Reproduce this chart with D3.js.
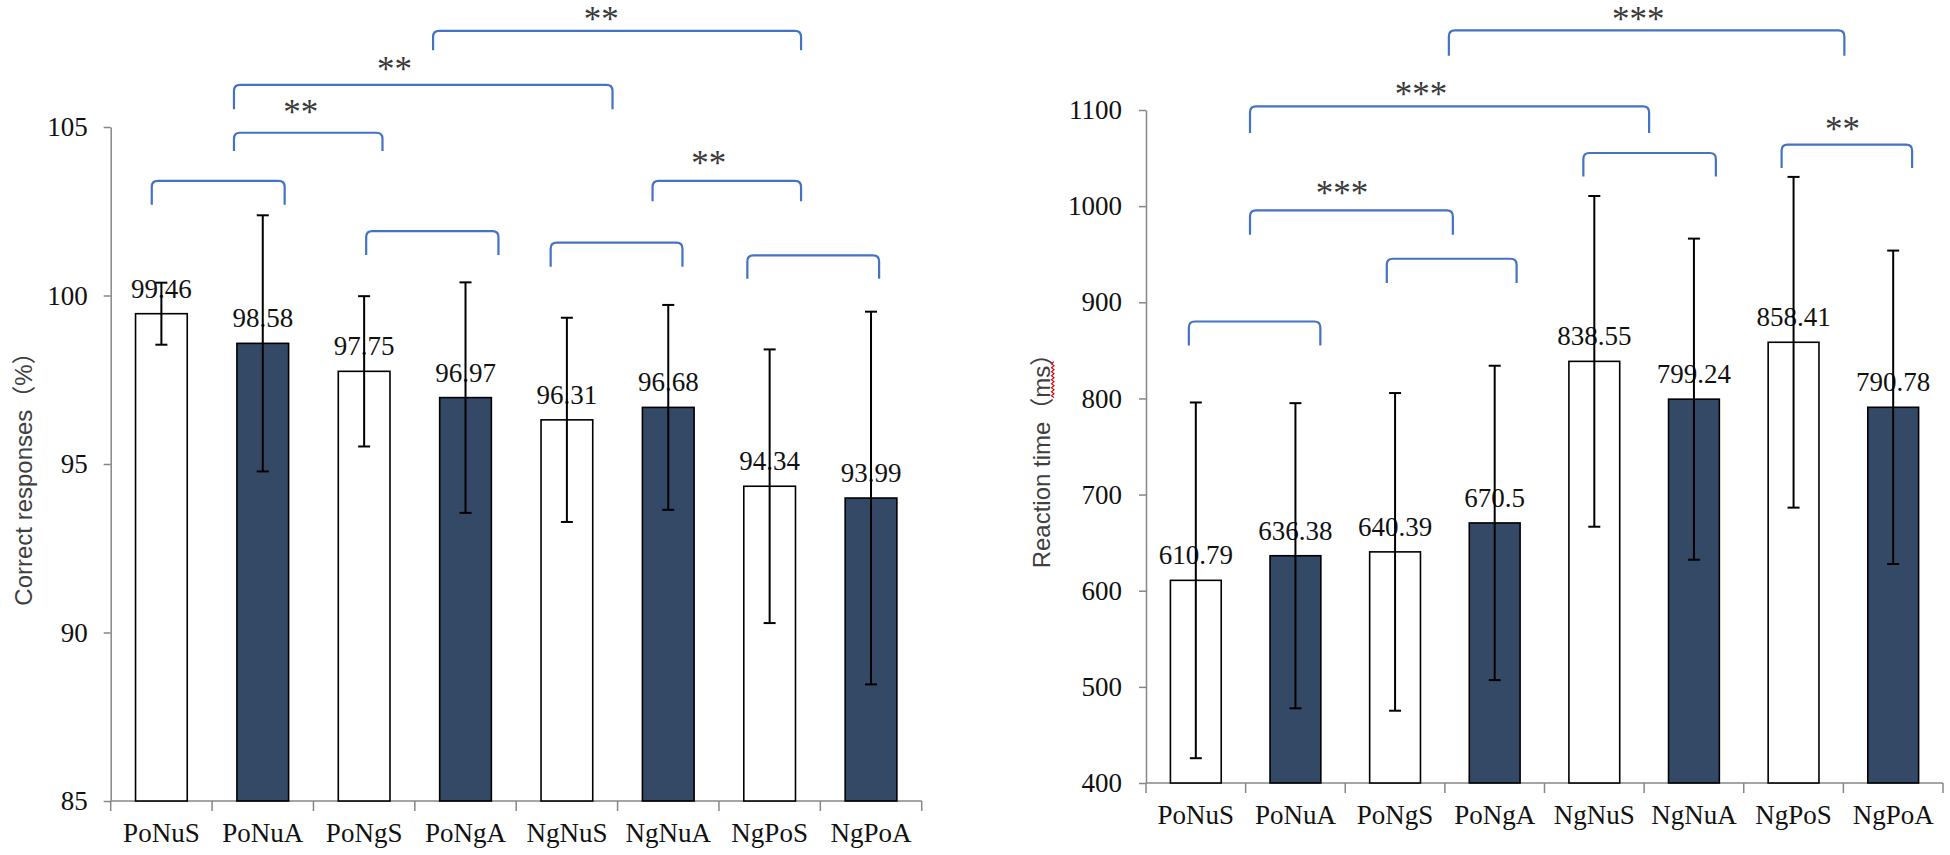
<!DOCTYPE html>
<html>
<head>
<meta charset="utf-8">
<script src="https://cdn.jsdelivr.net/npm/d3@7/dist/d3.min.js"></script>
<style>
  html, body { margin: 0; padding: 0; background: #ffffff; }
  svg { display: block; }
</style>
</head>
<body>
<svg id="chart" width="1950" height="855"></svg>
<script>
// ---------------- DATA ----------------
const categories = ["PoNuS", "PoNuA", "PoNgS", "PoNgA", "NgNuS", "NgNuA", "NgPoS", "NgPoA"];

const accuracyMeans = [99.46, 98.58, 97.75, 96.97, 96.31, 96.68, 94.34, 93.99];
const accuracyErrors = [0.92, 3.8, 2.23, 3.42, 3.03, 3.04, 4.06, 5.53];
const accuracyTicks = [85, 90, 95, 100, 105];
const accuracyTitle = "Correct responses（%）";

const rtMeans = [610.79, 636.38, 640.39, 670.5, 838.55, 799.24, 858.41, 790.78];
const rtErrors = [185, 158.7, 165.2, 163.5, 172, 167, 172, 163];
const rtTicks = [400, 500, 600, 700, 800, 900, 1000, 1100];
const rtTitle = "Reaction time（ms）";

// significance brackets: from/to in category-index units, top/leg in data units
const accuracyBrackets = [
  { from: -0.095, to: 1.216, top: 103.40, leg: 102.69, stars: "",   starX: 0,    starY: 0 },
  { from: 0.716,  to: 2.181, top: 104.83, leg: 104.29, stars: "**", starX: 1.374, starY: 105.56 },
  { from: 0.716,  to: 4.45,  top: 106.25, leg: 105.53, stars: "**", starX: 2.30,  starY: 106.84 },
  { from: 2.68,   to: 6.31,  top: 107.85, leg: 107.28, stars: "**", starX: 4.34,  starY: 108.32 },
  { from: 2.02,   to: 3.325, top: 101.91, leg: 101.20, stars: "",   starX: 0,    starY: 0 },
  { from: 3.84,   to: 5.14,  top: 101.57, leg: 100.85, stars: "",   starX: 0,    starY: 0 },
  { from: 4.845,  to: 6.31,  top: 103.40, leg: 102.80, stars: "**", starX: 5.40,  starY: 104.05 },
  { from: 5.78,   to: 7.08,  top: 101.19, leg: 100.50, stars: "",   starX: 0,    starY: 0 }
];

const rtBrackets = [
  { from: -0.07, to: 1.25, top: 880,    leg: 855,    stars: "",    starX: 0,    starY: 0 },
  { from: 1.917, to: 3.22, top: 945.3,  leg: 920,    stars: "",    starX: 0,    starY: 0 },
  { from: 0.544, to: 2.58, top: 995.5,  leg: 970.2,  stars: "***", starX: 1.468, starY: 1017.8 },
  { from: 0.544, to: 4.55, top: 1103.7, leg: 1076.1, stars: "***", starX: 2.26,  starY: 1121.1 },
  { from: 2.54,  to: 6.51, top: 1182.8, leg: 1156.5, stars: "***", starX: 4.44,  starY: 1199.2 },
  { from: 3.89,  to: 5.22, top: 1055.3, leg: 1030.9, stars: "",    starX: 0,    starY: 0 },
  { from: 5.88,  to: 7.19, top: 1063.9, leg: 1039.6, stars: "**",  starX: 6.49,  starY: 1084.7 }
];

// ---------------- STYLE ----------------
const DARK = "#344966";
const AXIS = "#878787";
const BRACKET = "#4472C4";
const SERIF = "'Liberation Serif', 'Times New Roman', serif";
const SANS = "'Liberation Sans', Arial, 'Noto Sans CJK SC', sans-serif";

const svg = d3.select("#chart");

function drawPanel(opt) {
  const g = svg.append("g");
  const x = d3.scaleBand().domain(categories).range([opt.x0, opt.x1])
    .paddingInner(0.49).paddingOuter(0.245);
  const xi = d3.scaleLinear().domain([-0.5, categories.length - 0.5]).range([opt.x0, opt.x1]);
  const y = d3.scaleLinear().domain(opt.domain).range([opt.yBottom, opt.yTop]);

  // y axis
  const ya = g.append("g").attr("transform", `translate(${opt.x0},0)`)
    .call(d3.axisLeft(y).tickValues(opt.ticks).tickFormat(d3.format("d"))
      .tickSize(7).tickSizeOuter(0).tickPadding(opt.tickPad));
  ya.select(".domain").attr("stroke", AXIS).attr("stroke-width", 1.5);
  ya.selectAll(".tick line").attr("stroke", AXIS).attr("stroke-width", 1.5);
  ya.selectAll(".tick text").attr("font-family", SERIF).attr("font-size", 27).attr("fill", "#111");

  // x axis
  const xa = g.append("g").attr("transform", `translate(0,${opt.yBottom})`)
    .call(d3.axisBottom(x).tickSize(0).tickSizeOuter(0).tickPadding(22));
  xa.select(".domain").remove();
  xa.selectAll(".tick text").attr("font-family", SERIF).attr("font-size", 27).attr("fill", "#111");
  xa.append("line").attr("x1", opt.x0).attr("x2", opt.x1).attr("y1", 0).attr("y2", 0)
    .attr("stroke", AXIS).attr("stroke-width", 1.5);
  const bounds = d3.range(categories.length + 1).map(i => xi(i - 0.5));
  xa.selectAll(".bt").data(bounds).join("line").attr("class", "bt")
    .attr("x1", d => d).attr("x2", d => d).attr("y1", 0).attr("y2", 10)
    .attr("stroke", AXIS).attr("stroke-width", 1.5);

  // bars
  g.selectAll(".bar").data(opt.means).join("rect").attr("class", "bar")
    .attr("x", (d, i) => x(categories[i]))
    .attr("width", x.bandwidth())
    .attr("y", d => y(d))
    .attr("height", d => opt.yBottom - y(d))
    .attr("fill", (d, i) => i % 2 === 0 ? "#ffffff" : DARK)
    .attr("stroke", "#000").attr("stroke-width", 1.6);

  // value labels
  g.selectAll(".val").data(opt.means).join("text").attr("class", "val")
    .attr("x", (d, i) => x(categories[i]) + x.bandwidth() / 2)
    .attr("y", d => y(d) - 16)
    .attr("text-anchor", "middle")
    .attr("font-family", SERIF).attr("font-size", 27).attr("fill", "#111")
    .text(d => d);

  // error bars
  const eb = g.selectAll(".err").data(opt.means).join("g").attr("class", "err");
  eb.append("line")
    .attr("x1", (d, i) => x(categories[i]) + x.bandwidth() / 2)
    .attr("x2", (d, i) => x(categories[i]) + x.bandwidth() / 2)
    .attr("y1", (d, i) => y(d + opt.errors[i]))
    .attr("y2", (d, i) => y(d - opt.errors[i]))
    .attr("stroke", "#000").attr("stroke-width", 2);
  [1, -1].forEach(s => {
    eb.append("line")
      .attr("x1", (d, i) => x(categories[i]) + x.bandwidth() / 2 - 6)
      .attr("x2", (d, i) => x(categories[i]) + x.bandwidth() / 2 + 6)
      .attr("y1", (d, i) => y(d + s * opt.errors[i]))
      .attr("y2", (d, i) => y(d + s * opt.errors[i]))
      .attr("stroke", "#000").attr("stroke-width", 2);
  });

  // brackets
  const r = 6;
  g.selectAll(".br").data(opt.brackets).join("path").attr("class", "br")
    .attr("d", b => {
      const x1 = xi(b.from), x2 = xi(b.to), yt = y(b.top), yl = y(b.leg);
      return `M${x1},${yl} L${x1},${yt + r} Q${x1},${yt} ${x1 + r},${yt} L${x2 - r},${yt} Q${x2},${yt} ${x2},${yt + r} L${x2},${yl}`;
    })
    .attr("fill", "none").attr("stroke", BRACKET).attr("stroke-width", 2.2);
  g.selectAll(".star").data(opt.brackets.filter(b => b.stars)).join("text").attr("class", "star")
    .attr("x", b => xi(b.starX))
    .attr("y", b => y(b.starY) + 16)
    .attr("text-anchor", "middle")
    .attr("font-family", SERIF).attr("font-size", 35).attr("fill", "#3a3a3a")
    .text(b => b.stars);

  // axis title
  const tg = svg.append("g").attr("transform", `translate(${opt.titleX},${opt.titleY}) rotate(-90)`);
  const tt = tg.append("text").attr("text-anchor", "middle")
    .attr("font-family", SANS).attr("font-size", 24).attr("fill", "#404040")
    .text(opt.title);
  if (opt.squiggle) {
    const node = tt.node();
    const full = node.getComputedTextLength();
    const idx = opt.title.indexOf(opt.squiggle);
    const start = -full / 2 + node.getSubStringLength(0, idx);
    const len = node.getSubStringLength(idx, opt.squiggle.length);
    let p = `M${start},4`;
    for (let s = start; s < start + len; s += 4) {
      p += ` L${s + 2},1.5 L${s + 4},4`;
    }
    tg.append("path").attr("d", p).attr("fill", "none").attr("stroke", "#e00000").attr("stroke-width", 1.2);
  }
}

drawPanel({
  x0: 110.7, x1: 921.7, yBottom: 801, yTop: 127,
  domain: [85, 105], ticks: accuracyTicks, tickPad: 16,
  means: accuracyMeans, errors: accuracyErrors, brackets: accuracyBrackets,
  title: accuracyTitle, titleX: 32, titleY: 473
});

drawPanel({
  x0: 1146, x1: 1943, yBottom: 783, yTop: 110,
  domain: [400, 1100], ticks: rtTicks, tickPad: 17,
  means: rtMeans, errors: rtErrors, brackets: rtBrackets,
  title: rtTitle, titleX: 1050, titleY: 455, squiggle: "ms"
});
</script>
</body>
</html>
